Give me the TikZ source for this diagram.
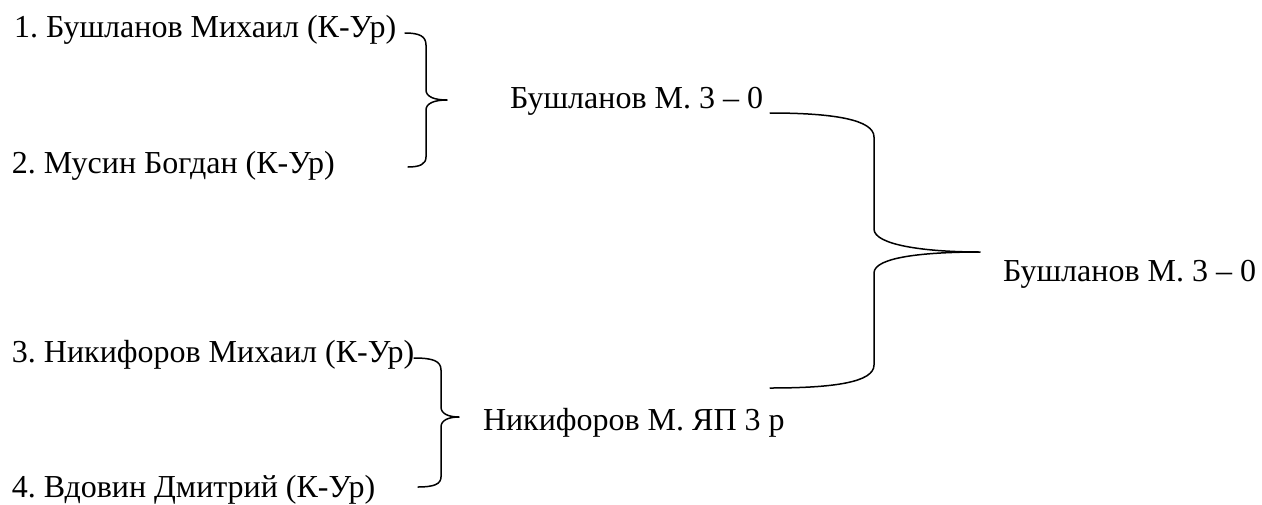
\documentclass[tikz,border=0pt]{standalone}
\usepackage{fontspec}
\setmainfont{Liberation Serif}
\begin{document}
\frenchspacing
\begin{tikzpicture}[x=1pt,y=-1pt,
  lbl/.style={anchor=base west,inner sep=0pt,outer sep=0pt,font=\fontsize{32}{38}\selectfont},
  brace/.style={line width=1.5pt,line cap=round,line join=round}]
\useasboundingbox (0,0) rectangle (1262,504);
\node[lbl] (p1) at (14,37) {1. Бушланов Михаил (К-Ур)};
\node[lbl] (p2) at (12,173) {2. Мусин Богдан (К-Ур)};
\node[lbl] (p3) at (12,362) {3. Никифоров Михаил (К-Ур)};
\node[lbl] (p4) at (12,497) {4. Вдовин Дмитрий (К-Ур)};
\node[lbl] (w1) at (510,108) {Бушланов М. 3 – 0};
\node[lbl] (w2) at (483,430) {Никифоров М. ЯП 3 р};
\node[lbl] (f) at (1003,281) {Бушланов М. 3 – 0};
% brace 1
\coordinate (b1a) at (405,33);
\coordinate (b1t) at (447,100);
\coordinate (b1b) at (408,167);
\draw[brace] (b1a) .. controls (419,33) and (426,36) .. (426,45) -- (426,90)
  .. controls (426,97) and (435,100) .. (b1t)
  .. controls (435,100) and (426,103) .. (426,110) -- (426,157)
  .. controls (426,164) and (420,167) .. (b1b);
% brace 3
\coordinate (b3a) at (414,358);
\coordinate (b3t) at (459,417);
\coordinate (b3b) at (418,487);
\draw[brace] (b3a) .. controls (433,358) and (441,361) .. (441,370) -- (441,407)
  .. controls (441,414) and (449,417) .. (b3t)
  .. controls (449,417) and (441,420) .. (441,427) -- (441,477)
  .. controls (441,484) and (434,487) .. (b3b);
% brace 2
\coordinate (b2a) at (770,113);
\coordinate (b2t) at (980,252);
\coordinate (b2b) at (770,388);
\draw[brace] (b2a) .. controls (835,113) and (874,120) .. (874,137) -- (874,229)
  .. controls (874,245) and (925,252) .. (b2t)
  .. controls (925,252) and (874,257) .. (874,273) -- (874,365)
  .. controls (874,382) and (835,388) .. (b2b);
\end{tikzpicture}
\end{document}
